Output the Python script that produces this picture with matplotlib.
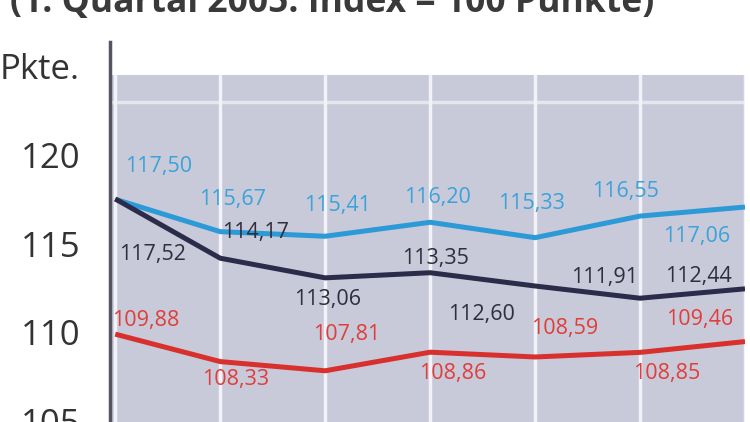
import matplotlib
matplotlib.use("Agg")
import matplotlib.pyplot as plt
from matplotlib.lines import Line2D

# ---------------- data ----------------
quarters = list(range(7))
blue_vals = [117.50, 115.67, 115.41, 116.20, 115.33, 116.55, 117.06]
dark_vals = [117.52, 114.17, 113.06, 113.35, 112.60, 111.91, 112.44]
red_vals = [109.88, 108.33, 107.81, 108.86, 108.59, 108.85, 109.46]
y_ticks = [105, 110, 115, 120]
title_text = "(1. Quartal 2005: Index = 100 Punkte)"
unit_text = "Pkte."

# label offsets (pixels) relative to the points
blue_off = [(43, -33), (12, -32), (12, -31), (7, -25), (-4, -34), (-15, -25), (-48, 29)]
dark_off = [(37, 56), (35, -26), (2, 22), (5, -14), (-54, 29), (-35, -21), (-47, -12)]
red_off = [(30, -14), (15, 18), (22, -36), (23, 21), (30, -28), (27, 21), (-45, -22)]

BLUE, BLUE_T = "#2b9ad6", "#3aa3da"
DARK, DARK_T = "#2a2c4a", "#2e2e3c"
RED, RED_T = "#d8302c", "#e03e3a"
BG = "#c8c9d9"

W, H = 750, 422
fig = plt.figure(figsize=(W / 100, H / 100), dpi=100)
fig.patch.set_facecolor("white")
ax = fig.add_axes([110 / W, (H - 440) / H, 635 / W, 365 / H])
ax.set_facecolor(BG)
ax.set_xlim(-0.05, 6.0)
ax.set_ylim(103.9, 124.52)

# vertical white grid at each quarter
ax.set_xticks(quarters)
ax.xaxis.grid(True, color="#f2f2f8", lw=2.5)
ax.tick_params(axis="x", length=0, labelbottom=False)
ax.axhline(123, color="#e6e6ef", lw=2.5, zorder=0.5)
ax.set_axisbelow(True)

for sp in ["top", "right", "bottom"]:
    ax.spines[sp].set_visible(False)
ax.spines["left"].set_visible(False)
ax.add_line(Line2D([0, 0], [0, 1.09], transform=ax.transAxes, color="#555560",
                   lw=2.5, clip_on=False, zorder=5))

ax.set_yticks(y_ticks)
ax.set_yticklabels([str(t) for t in y_ticks])
ax.tick_params(axis="y", length=0, pad=21.6, labelsize=25, labelcolor="#333333")
for lab in ax.get_yticklabels():
    lab.set_family("Open Sans")

fs_lab = 15.5
for vals, col, tcol, offs in [(blue_vals, BLUE, BLUE_T, blue_off),
                              (dark_vals, DARK, DARK_T, dark_off),
                              (red_vals, RED, RED_T, red_off)]:
    ax.plot(quarters, vals, color=col, lw=3.6, solid_capstyle="butt", zorder=3)
    for x, v, (dx, dy) in zip(quarters, vals, offs):
        ax.annotate(f"{v:.2f}".replace(".", ","), (x, v), xytext=(dx, -dy),
                    textcoords="offset pixels", ha="center", va="center",
                    fontsize=fs_lab, color=tcol, family="Open Sans", zorder=4,
                    annotation_clip=False)

# unit label
fig.text(80 / W, (H - 70) / H, unit_text, ha="right", va="center", fontsize=25,
         color="#333333", family="Open Sans")

# title (cut at the top, fitted to width)
t = fig.text(10 / W, (H - 12) / H, title_text, ha="left", va="baseline",
             fontsize=21, fontweight="bold", color="#3a3a3a", family="Open Sans")
fig.canvas.draw()
bb = t.get_window_extent()
t.set_fontsize(21 * 643 / bb.width)

fig.savefig("out.png", dpi=100)
